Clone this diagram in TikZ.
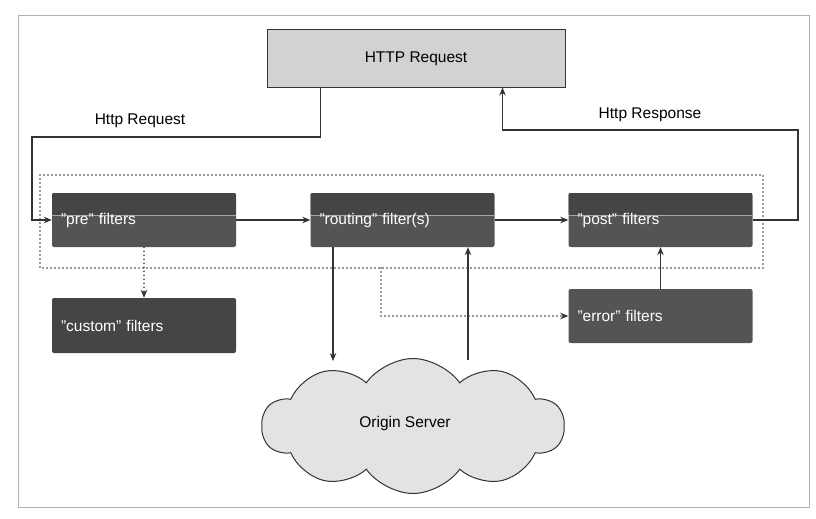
\documentclass[tikz,border=0pt]{standalone}
\usepackage{fontspec}
\setmainfont{Liberation Sans}
\usetikzlibrary{shapes.symbols,arrows.meta}
\definecolor{boxgray}{HTML}{545454}
\definecolor{bandgray}{HTML}{454545}
\definecolor{reqgray}{HTML}{D2D2D2}
\definecolor{linegray}{HTML}{333333}
\tikzset{
  conn/.style={draw=linegray, line width=1.1pt},
  dotline/.style={draw=linegray, line width=1.7pt, line cap=round, dash pattern=on 0pt off 4pt},
  filterbox/.style={fill=boxgray, rounded corners=2pt, minimum width=184pt, minimum height=54pt,
    text width=166pt, align=left, text=white, inner sep=0pt},
  bandbox/.style={filterbox, path picture={
      \fill[bandgray] (path picture bounding box.north west) rectangle ([yshift=-22pt]path picture bounding box.north east);
      \draw[gray!70, line width=0.7pt] ([yshift=-22pt]path picture bounding box.north west) -- ([yshift=-22pt]path picture bounding box.north east);}},
  lbl/.style={font=\fontsize{15.5}{18}\selectfont, inner sep=0pt}
}
\begin{document}
\begin{tikzpicture}[x=1pt,y=-1pt,>={Stealth[length=8pt,width=6.5pt]},font=\fontsize{15.5}{18}\selectfont]
  \useasboundingbox (0,0) rectangle (816,519);
  \draw[gray!60, line width=0.8pt] (18,15) rectangle (809,507);
  % request box and filter boxes
  \node[fill=reqgray, draw=linegray, line width=1pt, minimum width=298pt, minimum height=57pt] (http) at (416,58.5) {HTTP Request};
  \draw[dotline] (40,175) rectangle (763,268);
  \node[bandbox] (pre) at (144,220) {"pre" filters};
  \node[bandbox] (routing) at (402.5,220) {"routing" filter(s)};
  \node[bandbox] (post) at (660.5,220) {"post" filters};
  \node[filterbox, fill=bandgray, minimum height=55pt] (custom) at (144,325.5) {"custom" filters};
  \node[filterbox] (error) at (660.5,316) {"error" filters};
  \node[cloud, cloud puffs=10, cloud puff arc=110, aspect=2.4, fill=gray!22, draw=linegray, line width=1pt,
    minimum width=302pt, minimum height=135pt] (origin) at (413,426) {};
  \node[lbl] (originlbl) at (405,423) {Origin Server};
  \node[lbl] (reqlbl) at (140,121) {Http Request};
  \node[lbl] (resplbl) at (650,115) {Http Response};
  \coordinate (reqbend) at (32,137);
  \coordinate (respbend) at (798,130);
  \coordinate (downend) at (333,361);
  \coordinate (upstart) at (468,360);
  \coordinate (errstart) at (381,268);
  % connectors
  \draw[conn,->] ([xshift=54pt]http.south west) |- (reqbend) |- (pre.west);
  \draw[conn,->] (post.east) -| (respbend) -| ([xshift=236pt]http.south west);
  \draw[conn,->] (pre) -- (routing);
  \draw[conn,->] (routing) -- (post);
  \draw[dotline,->] (pre) -- (custom);
  \draw[conn,->] (error) -- (post);
  \draw[conn,->] (routing.south -| downend) -- (downend);
  \draw[conn,->] (upstart) -- (routing.south -| upstart);
  \draw[dotline,->] (errstart) |- (error.west);
\end{tikzpicture}
\end{document}
